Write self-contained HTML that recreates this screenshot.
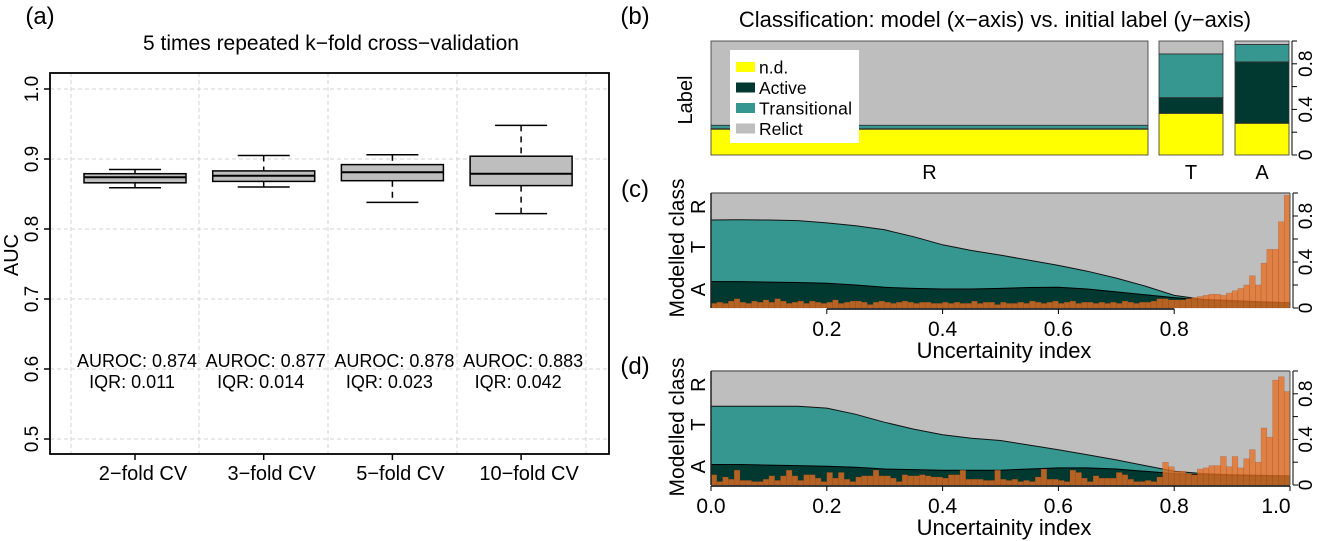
<!DOCTYPE html>
<html><head><meta charset="utf-8">
<style>
html,body{margin:0;padding:0;background:#fff;}
svg{display:block;font-family:"Liberation Sans",Arial,sans-serif;}
</style></head>
<body>
<svg id="fig" width="1320" height="541" viewBox="0 0 1320 541" xmlns="http://www.w3.org/2000/svg"></svg>
<script>
// ---------- Panel (a) data ----------
const cvCategories = ["2\u2212fold CV","3\u2212fold CV","5\u2212fold CV","10\u2212fold CV"];
const whiskerLow  = [0.859,0.860,0.838,0.822];
const boxQ1       = [0.866,0.868,0.869,0.862];
const boxMedian   = [0.874,0.876,0.881,0.879];
const boxQ3       = [0.879,0.883,0.892,0.904];
const whiskerHigh = [0.885,0.905,0.906,0.948];
const aurocLabels = ["AUROC: 0.874","AUROC: 0.877","AUROC: 0.878","AUROC: 0.883"];
const iqrLabels   = ["IQR: 0.011","IQR: 0.014","IQR: 0.023","IQR: 0.042"];
const aucTicks = [0.5,0.6,0.7,0.8,0.9,1.0];

// ---------- Panel (b) data ----------
const labelGroups = ["R","T","A"];
const groupWidths = [437,64,54];
const fracND = [0.226,0.365,0.278];
const fracActive = [0.005,0.139,0.539];
const fracTransitional = [0.03,0.383,0.153];
const fracRelict = [0.739,0.113,0.03];
const propTicks = [0,0.2,0.4,0.6,0.8,1.0];
const propTickLabels = ["0","","0.4","","0.8",""];

// ---------- Panel (c)/(d) data ----------
const curveX = [0,0.05,0.1,0.15,0.2,0.25,0.3,0.35,0.4,0.45,0.5,0.55,0.6,0.65,0.7,0.75,0.8,0.85,0.9,0.95,1.0];
const cTransTop = [0.765,0.767,0.765,0.76,0.74,0.715,0.68,0.62,0.55,0.50,0.46,0.415,0.37,0.32,0.26,0.19,0.11,0.075,0.065,0.055,0.045];
const cActiveTop = [0.23,0.23,0.225,0.222,0.215,0.20,0.18,0.17,0.165,0.165,0.17,0.178,0.18,0.165,0.14,0.115,0.09,0.07,0.06,0.05,0.045];
const dTransTop = [0.69,0.69,0.69,0.69,0.675,0.62,0.55,0.49,0.44,0.41,0.39,0.35,0.31,0.265,0.22,0.17,0.12,0.10,0.09,0.085,0.08];
const dActiveTop = [0.18,0.18,0.175,0.17,0.165,0.155,0.14,0.135,0.13,0.13,0.13,0.14,0.15,0.15,0.14,0.12,0.10,0.09,0.085,0.08,0.08];
const cHist = [0.04,0.05,0.04,0.06,0.08,0.05,0.04,0.06,0.05,0.07,0.05,0.08,0.06,0.04,0.05,0.06,0.04,0.06,0.05,0.04,
0.05,0.07,0.04,0.05,0.06,0.06,0.05,0.03,0.05,0.06,0.05,0.04,0.05,0.06,0.05,0.04,0.05,0.05,0.04,0.04,
0.05,0.04,0.05,0.04,0.04,0.06,0.04,0.05,0.05,0.03,0.05,0.04,0.04,0.05,0.04,0.06,0.05,0.04,0.05,0.06,
0.04,0.05,0.06,0.04,0.05,0.05,0.04,0.05,0.04,0.05,0.04,0.06,0.05,0.04,0.05,0.05,0.06,0.08,0.08,0.07,
0.07,0.07,0.08,0.09,0.10,0.11,0.12,0.12,0.11,0.13,0.15,0.17,0.20,0.28,0.20,0.39,0.51,0.51,0.75,0.98];
const dHist = [0.09,0.03,0.07,0.05,0.13,0.04,0.04,0.03,0.03,0.05,0.08,0.04,0.08,0.13,0.08,0.04,0.09,0.09,0.06,0.03,
0.11,0.06,0.11,0.05,0.03,0.07,0.08,0.08,0.13,0.08,0.08,0.06,0.03,0.09,0.08,0.08,0.09,0.08,0.07,0.07,
0.06,0.09,0.09,0.13,0.05,0.05,0.05,0.04,0.04,0.13,0.05,0.04,0.05,0.03,0.04,0.03,0.07,0.14,0.05,0.05,
0.04,0.03,0.13,0.11,0.06,0.03,0.08,0.06,0.06,0.06,0.11,0.09,0.05,0.03,0.03,0.04,0.03,0.07,0.20,0.16,
0.12,0.12,0.10,0.09,0.14,0.15,0.17,0.17,0.25,0.16,0.25,0.15,0.23,0.31,0.20,0.50,0.42,0.92,0.95,0.82];
const uncTicks = [0,0.2,0.4,0.6,0.8,1.0];

const NS = "http://www.w3.org/2000/svg";
const svg = document.getElementById("fig");
function mk(tag, attrs, parent, text){
  const e = document.createElementNS(NS, tag);
  for (const k in attrs) e.setAttribute(k, attrs[k]);
  if (text !== undefined) e.textContent = text;
  (parent||svg).appendChild(e);
  return e;
}
function grp(name){
  const g = document.createElementNS(NS,"g");
  
  
  svg.appendChild(g);
  return g;
}

const GRAY="#bebebe", TEAL="#35978f", DARK="#01382f", YEL="#ffff00", ORG="rgba(232,112,35,0.78)";

// ---------- Panel (a) ----------
(function(){
  const g = grp("panel-a");
  const L=50,R=609,T=73,B=454;
  const yA = v => 89 + (1-v)*700;
  const xA = i => 135 + i*128.7;
  let t = mk("text",{x:40,y:24,"font-size":24,"text-anchor":"middle"},g,"(a)");
   
  t = mk("text",{x:331,y:50,"font-size":21,"text-anchor":"middle"},g,"5 times repeated k\u2212fold cross\u2212validation");
   
  aucTicks.forEach(v=>{
    const l = mk("line",{x1:L,x2:R,y1:yA(v),y2:yA(v),stroke:"#d3d3d3","stroke-dasharray":"4,3","stroke-width":1},g);
     
  });
  [71,199,328,457,586].forEach(x=>{
    const l = mk("line",{x1:x,x2:x,y1:T,y2:B,stroke:"#d3d3d3","stroke-dasharray":"4,3","stroke-width":1},g);
     
  });
  cvCategories.forEach((c,i)=>{
    const cx = xA(i), hw = 51, cw = 26;
    const bg = mk("g",{},g);
     
    mk("line",{x1:cx,x2:cx,y1:yA(whiskerHigh[i]),y2:yA(boxQ3[i]),stroke:"#000","stroke-dasharray":"6,5","stroke-width":1.5},bg);
    mk("line",{x1:cx,x2:cx,y1:yA(boxQ1[i]),y2:yA(whiskerLow[i]),stroke:"#000","stroke-dasharray":"6,5","stroke-width":1.5},bg);
    mk("line",{x1:cx-cw,x2:cx+cw,y1:yA(whiskerHigh[i]),y2:yA(whiskerHigh[i]),stroke:"#000","stroke-width":1.5},bg);
    mk("line",{x1:cx-cw,x2:cx+cw,y1:yA(whiskerLow[i]),y2:yA(whiskerLow[i]),stroke:"#000","stroke-width":1.5},bg);
    mk("rect",{x:cx-hw,y:yA(boxQ3[i]),width:2*hw,height:yA(boxQ1[i])-yA(boxQ3[i]),fill:GRAY,stroke:"#000","stroke-width":1.5},bg);
    mk("line",{x1:cx-hw,x2:cx+hw,y1:yA(boxMedian[i]),y2:yA(boxMedian[i]),stroke:"#000","stroke-width":2},bg);
    let a = mk("text",{x:cx+2,y:367,"font-size":18,"text-anchor":"middle"},g,aurocLabels[i]);
     
    let q = mk("text",{x:cx-3,y:388,"font-size":18,"text-anchor":"middle"},g,iqrLabels[i]);
     
    mk("line",{x1:cx,x2:cx,y1:B,y2:B+6,stroke:"#000","stroke-width":1.5},g);
    let xl = mk("text",{x:cx+8,y:480,"font-size":20,"text-anchor":"middle"},g,c);
     
  });
  aucTicks.forEach(v=>{
    mk("line",{x1:L-6,x2:L,y1:yA(v),y2:yA(v),stroke:"#000","stroke-width":1.5},g);
    let yl = mk("text",{x:0,y:0,"font-size":19,"text-anchor":"middle",transform:`translate(38,${yA(v)}) rotate(-90)`},g,v.toFixed(1));
     
  });
  let yt = mk("text",{x:0,y:0,"font-size":20,"text-anchor":"middle",transform:"translate(18,255) rotate(-90)"},g,"AUC");
   
  let fr = mk("rect",{x:L,y:T,width:R-L,height:B-T,fill:"none",stroke:"#000","stroke-width":1.8},g);
   
})();

// ---------- Panel (b) ----------
(function(){
  const g = grp("panel-b");
  const T=41,B=155,H=B-T;
  const yB = v => B - v*H;
  let t = mk("text",{x:635,y:24,"font-size":24,"text-anchor":"middle"},g,"(b)");
   
  t = mk("text",{x:995,y:27,"font-size":22,"text-anchor":"middle"},g,"Classification: model (x\u2212axis) vs. initial label (y\u2212axis)");
   
  const starts = [711,1159,1235];
  labelGroups.forEach((lab,i)=>{
    const x0 = starts[i], w = groupWidths[i];
    const segs = [[fracND[i],YEL,'nd'],[fracActive[i],DARK,'active'],[fracTransitional[i],TEAL,'transitional'],[fracRelict[i],GRAY,'relict']];
    let acc = 0;
    segs.forEach(s=>{
      const r = mk("rect",{x:x0,y:yB(acc+s[0]),width:w,height:s[0]*H,fill:s[1],stroke:"#333","stroke-width":0.8},g);
       
      acc += s[0];
    });
    let l = mk("text",{x:x0+w/2,y:179,"font-size":20,"text-anchor":"middle"},g,lab);
     
  });
  mk("line",{x1:1292,x2:1292,y1:yB(0),y2:yB(1),stroke:"#000","stroke-width":1},g);
  propTicks.forEach((v,i)=>{
    mk("line",{x1:1292,x2:1297,y1:yB(v),y2:yB(v),stroke:"#000","stroke-width":1},g);
    if (propTickLabels[i]){
      let tl = mk("text",{x:0,y:0,"font-size":19,"text-anchor":"middle",transform:`translate(1312,${yB(v)}) rotate(-90)`},g,propTickLabels[i]);
       
    }
  });
  let yl = mk("text",{x:0,y:0,"font-size":20,"text-anchor":"middle",transform:"translate(692,100) rotate(-90)"},g,"Label");
   
  const lg = mk("g",{},g);
   
  mk("rect",{x:730,y:50,width:129,height:93,fill:"#fff"},lg);
  [["n.d.",YEL],["Active",DARK],["Transitional",TEAL],["Relict",GRAY]].forEach((e,i)=>{
    const y = 67 + i*20.5;
    const eg = mk("g",{},lg);
     
    mk("rect",{x:736,y:y-5,width:19,height:10,fill:e[1]},eg);
    mk("text",{x:759,y:y+6.5,"font-size":17.5,textLength:e[0]==="Transitional"?93:undefined},eg,e[0]);
  });
})();

// ---------- Panels (c) and (d) ----------
function uncPanel(name,label,labelY,T,B,transTop,activeTop,hist,showZero,titleY){
  const g = grp(name);
  const L=711,R=1290,H=B-T;
  const xU = v => L + v*(R-L);
  const yU = v => B - v*H;
  let t = mk("text",{x:635,y:labelY,"font-size":24,"text-anchor":"middle"},g,label);
   
  const bgR = mk("rect",{x:L,y:T,width:R-L,height:H,fill:GRAY},g);
   
  const pts = arr => curveX.map((x,i)=>`${xU(x).toFixed(1)},${yU(arr[i]).toFixed(1)}`).join(" L");
  let p = mk("path",{d:`M${xU(0)},${B} L${pts(transTop)} L${xU(1)},${B} Z`,fill:TEAL},g);
   
  mk("path",{d:`M${pts(transTop)}`,fill:"none",stroke:"#111","stroke-width":1},g);
  p = mk("path",{d:`M${xU(0)},${B} L${pts(activeTop)} L${xU(1)},${B} Z`,fill:DARK},g);
   
  mk("path",{d:`M${pts(activeTop)}`,fill:"none",stroke:"#000","stroke-width":1},g);
  const hg = mk("g",{},g);
   
  const n = hist.length;
  hist.forEach((v,i)=>{
    const x0 = xU(i/n), x1 = xU((i+1)/n);
    const b = mk("rect",{x:x0,y:yU(v),width:x1-x0,height:v*H,fill:ORG,stroke:"rgba(150,60,20,0.5)","stroke-width":0.4},hg);
     
  });
  mk("line",{x1:L,x2:R,y1:T,y2:T,stroke:"#555","stroke-width":1.2},g);
  mk("line",{x1:L,x2:L,y1:T,y2:B,stroke:"#222","stroke-width":1.5},g);
  mk("line",{x1:R,x2:R,y1:T,y2:B,stroke:"#555","stroke-width":1},g);
  const ticks = showZero ? uncTicks : uncTicks.slice(1,5);
  mk("line",{x1:xU(ticks[0]),x2:xU(ticks[ticks.length-1]),y1:B+1,y2:B+1,stroke:"#000","stroke-width":1.5},g);
  ticks.forEach(v=>{
    mk("line",{x1:xU(v),x2:xU(v),y1:B+1,y2:B+6,stroke:"#000","stroke-width":1},g);
    const lx = v===1 ? xU(v)-14 : xU(v);
    let tl = mk("text",{x:lx,y:B+28,"font-size":21,"text-anchor":"middle"},g,v.toFixed(1));
     
  });
  let xt = mk("text",{x:1004,y:B+50,"font-size":22,"text-anchor":"middle"},g,"Uncertainity index");
   
  mk("line",{x1:R+3,x2:R+3,y1:B,y2:T,stroke:"#000","stroke-width":1},g);
  propTicks.forEach((v,i)=>{
    mk("line",{x1:R+3,x2:R+8,y1:yU(v),y2:yU(v),stroke:"#000","stroke-width":1},g);
    if (propTickLabels[i]){
      let tl = mk("text",{x:0,y:0,"font-size":19,"text-anchor":"middle",transform:`translate(1312,${yU(v)}) rotate(-90)`},g,propTickLabels[i]);
       
    }
  });
  [["A",0.16],["T",0.53],["R",0.88]].forEach(c=>{
    let cl = mk("text",{x:0,y:0,"font-size":20,"text-anchor":"middle",transform:`translate(705,${yU(c[1])}) rotate(-90)`},g,c[0]);
     
  });
  let yt = mk("text",{x:0,y:0,"font-size":21,"text-anchor":"middle",transform:`translate(684,${titleY}) rotate(-90)`},g,"Modelled class");
   
}
uncPanel("panel-c","(c)",197,193,308,cTransTop,cActiveTop,cHist,false,248);
uncPanel("panel-d","(d)",374,371,485,dTransTop,dActiveTop,dHist,true,427);
</script>
</body></html>
